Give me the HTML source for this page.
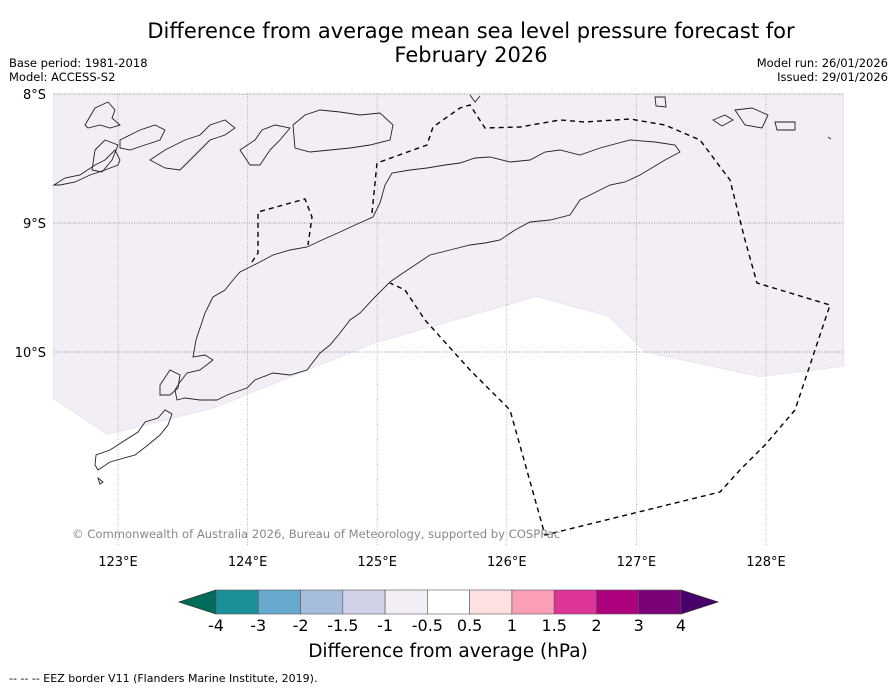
<!DOCTYPE html>
<html><head><meta charset="utf-8">
<style>
body{margin:0;background:#fff;font-family:"DejaVu Sans","Liberation Sans",sans-serif;}
#wrap{position:relative;width:896px;height:690px;overflow:hidden;}
.t{position:absolute;white-space:nowrap;color:#000;}
</style></head>
<body>
<div id="wrap">
<div class="t" style="left:0;width:942px;top:19px;text-align:center;font-size:21px;line-height:24px;">Difference from average mean sea level pressure forecast for<br>February 2026</div>
<div class="t" style="left:9px;top:56px;font-size:11.5px;">Base period: 1981-2018</div>
<div class="t" style="left:9px;top:70px;font-size:11.5px;">Model: ACCESS-S2</div>
<div class="t" style="right:8px;top:56px;font-size:11.5px;">Model run: 26/01/2026</div>
<div class="t" style="right:8px;top:70px;font-size:11.5px;">Issued: 29/01/2026</div>
<div class="t" style="left:9px;top:672px;font-size:11px;">--  --  -- EEZ border V11 (Flanders Marine Institute, 2019).</div>
<svg id="svg" width="896" height="690" style="position:absolute;left:0;top:0"></svg>
</div>
<script>
const NS="http://www.w3.org/2000/svg";
const svg=document.getElementById('svg');
// map data
const anomLon=[122.5,122.5,122.92,123.75,124.98,126.23,126.78,127.07,127.95,128.6,128.6];
const anomLat=[-8.0,-10.36,-10.64,-10.43,-9.93,-9.57,-9.72,-10.0,-10.19,-10.11,-8.0];
const lonTicks=[123,124,125,126,127,128];
const latTicks=[-8,-9,-10];
const cbLevels=['-4','-3','-2','-1.5','-1','-0.5','0.5','1','1.5','2','3','4'];
const cbColors=['#1c9099','#67a9cf','#a6bddb','#d0d1e6','#f3eef6','#ffffff','#fee0e0','#fa9fb5','#dd3497','#ae017e','#7a0177'];
const cbUnder='#016c59', cbOver='#49006a';
const X0=54,X1=843,Y0=94,Y1=545;
const px=lon=>118+(lon-123)*129.6;
const py=lat=>94+(-8-lat)*129;
function el(t,a,p){const e=document.createElementNS(NS,t);for(const k in a)e.setAttribute(k,a[k]);(p||svg).appendChild(e);return e;}
const poly=el('polygon',{points:anomLon.map((l,i)=>px(l)+','+py(anomLat[i])).join(' '),fill:'#f3eef6',stroke:'#e0d4e6','stroke-width':0.5});


lonTicks.forEach(l=>{const x=px(l);
 const g=el('line',{x1:x,x2:x,y1:Y0,y2:Y1,stroke:'#999','stroke-width':0.7,'stroke-dasharray':'1,1.5'});
 
 
 const t=el('text',{x:x,y:566,'font-size':13,'text-anchor':'middle','font-family':'DejaVu Sans,Liberation Sans,sans-serif'});t.textContent=l+'°E';
 
 
});
latTicks.forEach(l=>{const y=py(l);
 const g=el('line',{x1:X0,x2:X1,y1:y,y2:y,stroke:'#777','stroke-width':0.7,'stroke-dasharray':'1,1.5'});
 
 
 const t=el('text',{x:46,y:y+5,'font-size':13,'text-anchor':'end','font-family':'DejaVu Sans,Liberation Sans,sans-serif'});t.textContent=(-l)+'°S';
 
 
});
const coasts=[
"M193,357 L196,340 L200,328 L205,313 L213,297 L225,290 L233,280 L240,272 L248,268 L260,262 L273,255 L290,250 L307,247 L322,240 L340,232 L355,225 L373,217 L380,203 L385,185 L392,173 L410,170 L427,168 L445,165 L460,163 L475,158 L490,157 L510,162 L530,160 L545,152 L560,150 L580,155 L600,148 L630,140 L655,142 L675,145 L680,152 L665,160 L640,175 L625,182 L610,185 L590,195 L580,200 L570,215 L550,220 L530,222 L515,230 L500,240 L485,243 L470,245 L450,250 L430,255 L415,265 L400,275 L390,282 L375,297 L360,313 L350,320 L340,333 L330,345 L320,353 L307,370 L290,375 L273,373 L255,380 L247,388 L227,395 L217,400 L200,400 L185,398 L177,400 L175,390 L180,382 L187,373 L200,370 L213,360 L205,355 Z",
"M160,385 L170,370 L180,375 L178,388 L170,395 L160,395 Z",
"M98,470 L110,462 L135,455 L148,445 L160,435 L168,425 L172,414 L165,410 L158,418 L145,422 L138,432 L110,450 L96,455 L95,465 Z",
"M98,478 L103,482 L100,484 Z",
"M54,185 L65,178 L80,175 L95,165 L105,160 L115,150 L120,160 L118,165 L105,170 L90,175 L75,182 L60,185 Z",
"M85,125 L95,108 L108,102 L115,110 L112,118 L120,125 L110,128 L100,125 L88,128 Z",
"M120,140 L140,130 L155,125 L165,130 L160,140 L145,145 L130,150 L120,148 Z",
"M95,150 L105,140 L118,145 L112,160 L102,172 L92,170 Z",
"M150,160 L165,150 L175,145 L185,140 L200,135 L210,125 L225,120 L235,128 L225,135 L210,140 L200,150 L190,160 L180,170 L165,168 Z",
"M240,150 L255,140 L262,130 L275,125 L290,128 L280,140 L270,150 L260,165 L250,165 Z",
"M293,125 L305,115 L320,110 L340,112 L360,115 L380,113 L393,125 L390,140 L370,145 L350,148 L330,150 L310,152 L295,148 Z",
"M470,95 L475,102 L480,96","M655,97 L665,97 L666,107 L656,106 Z","M713,120 L725,115 L733,120 L722,126 Z",
"M735,110 L752,108 L768,115 L762,128 L745,125 Z","M775,122 L795,122 L795,130 L777,130 Z","M828,137 L831,139"
];
coasts.forEach(d=>{const p=el('path',{d:d,fill:'none',stroke:'#222','stroke-width':0.9});
 
 });
const eez=["M252,262 L258,253 L258,212 L305,199 L312,217 L308,245",
"M372,213 L377,163 L427,145 L433,127 L460,108 L470,105 L485,128 L520,127 L560,120 L585,122 L630,119 L665,125 L700,140 L730,180 L745,240 L757,283 L830,305 L795,410 L765,445 L740,470 L720,492 L545,535 L510,410 L470,370 L425,320 L405,290 L390,283"];
eez.forEach(d=>{const p=el('path',{d:d,fill:'none',stroke:'#000','stroke-width':1.4,'stroke-dasharray':'5,4'});
 
 });
const cr=el('text',{x:72,y:538,'font-size':11.6,fill:'#888','font-family':'DejaVu Sans,Liberation Sans,sans-serif'});
cr.textContent='© Commonwealth of Australia 2026, Bureau of Meteorology, supported by COSPPac';


const CB0=216,CB1=681,CBY=590,CBH=24,cw=(CB1-CB0)/cbColors.length;
const u=el('polygon',{points:`${CB0},${CBY} ${179},${CBY+CBH/2} ${CB0},${CBY+CBH}`,fill:cbUnder,stroke:'#333','stroke-width':0.8});


const o=el('polygon',{points:`${CB1},${CBY} ${718},${CBY+CBH/2} ${CB1},${CBY+CBH}`,fill:cbOver,stroke:'#333','stroke-width':0.8});


cbColors.forEach((c,i)=>{const r=el('rect',{x:CB0+i*cw,y:CBY,width:cw,height:CBH,fill:c,stroke:'#555','stroke-width':0.6});
 
 });
cbLevels.forEach((l,i)=>{const t=el('text',{x:CB0+i*cw,y:631,'font-size':16,'text-anchor':'middle','font-family':'DejaVu Sans,Liberation Sans,sans-serif'});t.textContent=l;
 
 });
const ct=el('text',{x:448,y:657,'font-size':18.5,'text-anchor':'middle','font-family':'DejaVu Sans,Liberation Sans,sans-serif'});
ct.textContent='Difference from average (hPa)';


</script>
</body></html>
